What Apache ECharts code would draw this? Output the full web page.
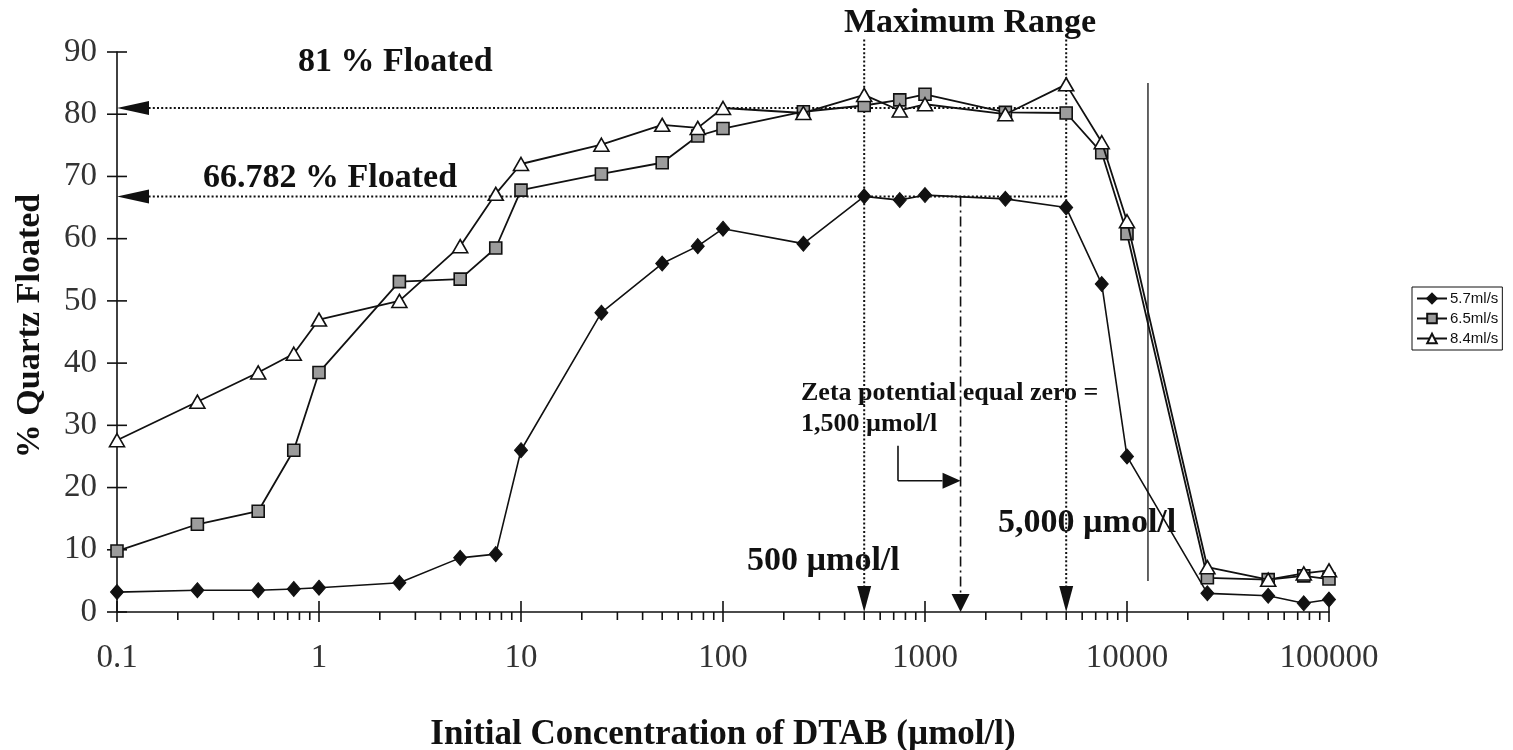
<!DOCTYPE html>
<html>
<head>
<meta charset="utf-8">
<script src="https://cdn.jsdelivr.net/npm/echarts@6/dist/echarts.min.js"></script>
<style>
  html, body { margin: 0; padding: 0; background: #fff; }
  #chart { width: 1513px; height: 750px; }
</style>
</head>
<body>
<div id="chart"></div>
<script>
// DTAB concentration (µmol/l) and % quartz floated at three air flow rates
const concentrations = [0.1, 0.25, 0.5, 0.75, 1, 2.5, 5, 7.5, 10, 25, 50, 75, 100, 250, 500, 750, 1000, 2500, 5000, 7500, 10000, 25000, 50000, 75000, 100000];
const floated57 = [3.2, 3.5, 3.5, 3.7, 3.9, 4.7, 8.7, 9.3, 26.0, 48.1, 56.0, 58.8, 61.6, 59.2, 66.8, 66.2, 67.0, 66.4, 65.0, 52.7, 25.0, 3.0, 2.6, 1.4, 2.0];
const floated65 = [9.8, 14.1, 16.2, 26.0, 38.5, 53.1, 53.5, 58.5, 67.8, 70.4, 72.2, 76.5, 77.7, 80.4, 81.4, 82.3, 83.2, 80.3, 80.2, 73.8, 60.8, 5.5, 5.2, 5.8, 5.3];
const floated84 = [27.6, 33.8, 38.5, 41.5, 47.0, 50.0, 58.8, 67.2, 72.0, 75.1, 78.3, 77.8, 81.0, 80.2, 83.1, 80.6, 81.6, 80.0, 84.8, 75.5, 62.8, 7.2, 5.2, 6.2, 6.7];
const seriesNames = ['5.7ml/s', '6.5ml/s', '8.4ml/s'];

// axis ticks
const xTickLabels = ['0.1', '1', '10', '100', '1000', '10000', '100000'];
const xDecades = [0.1, 1, 10, 100, 1000, 10000, 100000];
const yTicks = [0, 10, 20, 30, 40, 50, 60, 70, 80, 90];

// reference levels and concentrations marked on the plot
const floatHigh = 81;          // "81 % Floated"
const floatPlateau = 66.782;   // "66.782 % Floated"
const rangeStart = 500;        // µmol/l
const rangeEnd = 5000;         // µmol/l
const zetaZero = 1500;         // µmol/l
const rangeTop = 92;           // top of the "Maximum Range" guides
const calloutX = 735;          // bent arrow start (concentration)
const calloutTop = 26.7;
const calloutLevel = 21.1;
const cutoffX = 12700;         // solid separator line
const cutoffSpan = [5, 85];

const SERIF = '"Liberation Serif", "Times New Roman", serif';

// minor ticks of the log axis: 2..9 within each decade
const minorTicks = [];
for (let d = 0; d < xDecades.length - 1; d++) {
  for (let k = 2; k <= 9; k++) minorTicks.push(+(xDecades[d] * k).toPrecision(6));
}
const tickData = []
  .concat(xDecades.map(v => [v, 0, 0]))
  .concat(minorTicks.map(v => [v, 0, 1]))
  .concat(yTicks.map(v => [xDecades[0], v, 2]));

function renderTick(params, api) {
  const p = api.coord([api.value(0), api.value(1)]);
  const kind = api.value(2);
  let shape;
  if (kind === 0) shape = { x1: p[0], y1: p[1] - 11, x2: p[0], y2: p[1] + 10 };
  else if (kind === 1) shape = { x1: p[0], y1: p[1], x2: p[0], y2: p[1] + 8 };
  else shape = { x1: p[0] - 10, y1: p[1], x2: p[0] + 10, y2: p[1] };
  return { type: 'line', shape, style: { stroke: '#111', lineWidth: 1.6 } };
}

// guide lines: from/to in data space, dash pattern, arrow at the "to" end (length, half width)
const DOT = [2, 2.2];
const guides = [
  { from: [rangeEnd, floatHigh], to: [xDecades[0], floatHigh], dash: DOT, width: 2, arrow: [32, 7] },
  { from: [rangeEnd, floatPlateau], to: [xDecades[0], floatPlateau], dash: DOT, width: 2, arrow: [32, 7] },
  { from: [rangeStart, rangeTop], to: [rangeStart, 0], dash: DOT, width: 2, arrow: [26, 7] },
  { from: [rangeEnd, rangeTop], to: [rangeEnd, 0], dash: DOT, width: 2, arrow: [26, 7] },
  { from: [zetaZero, floatPlateau], to: [zetaZero, 0], dash: [10, 4, 2, 4], width: 1.6, arrow: [18, 9] },
  { from: [calloutX, calloutTop], to: [calloutX, calloutLevel], dash: null, width: 1.6, arrow: null },
  { from: [calloutX, calloutLevel], to: [zetaZero, calloutLevel], dash: null, width: 1.6, arrow: [18, 8] },
  { from: [cutoffX, cutoffSpan[1]], to: [cutoffX, cutoffSpan[0]], dash: null, width: 1.3, arrow: null }
];

function renderGuide(params, api) {
  const g = guides[params.dataIndex];
  const p0 = api.coord([api.value(0), api.value(1)]);
  const p1 = api.coord([api.value(2), api.value(3)]);
  const children = [];
  let end = p1;
  if (g.arrow) {
    const dx = p1[0] - p0[0], dy = p1[1] - p0[1];
    const len = Math.sqrt(dx * dx + dy * dy) || 1;
    const ux = dx / len, uy = dy / len;
    const bx = p1[0] - ux * g.arrow[0], by = p1[1] - uy * g.arrow[0];
    const nx = -uy * g.arrow[1], ny = ux * g.arrow[1];
    end = [bx, by];
    children.push({
      type: 'polygon',
      shape: { points: [[p1[0], p1[1]], [bx + nx, by + ny], [bx - nx, by - ny]] },
      style: { fill: '#111' }
    });
  }
  children.unshift({
    type: 'line',
    shape: { x1: p0[0], y1: p0[1], x2: end[0], y2: end[1] },
    style: { stroke: '#111', lineWidth: g.width, lineDash: g.dash || null }
  });
  return { type: 'group', children };
}

function pairs(ys) { return concentrations.map((c, i) => [c, ys[i]]); }

const chart = echarts.init(document.getElementById('chart'), null, { renderer: 'canvas' });

const boldText = (text, x, y, size, align) => ({
  type: 'text', x, y,
  style: { text, fill: '#111', font: 'bold ' + size + 'px ' + SERIF, align: align || 'left', verticalAlign: 'middle' }
});

chart.setOption({
  animation: false,
  backgroundColor: '#fff',
  grid: { left: 117, right: 184, top: 52, bottom: 138 },
  xAxis: {
    type: 'log', logBase: 10, min: 0.1, max: 100000, splitNumber: 6,
    axisLine: { show: true, lineStyle: { color: '#111', width: 1.6 } },
    axisTick: { show: false },
    splitLine: { show: false },
    axisLabel: {
      margin: 30, color: '#333', fontFamily: SERIF, fontSize: 33,
      formatter: v => xTickLabels[Math.round(Math.log10(v)) + 1]
    }
  },
  yAxis: {
    type: 'value', min: 0, max: 90, interval: 10,
    axisLine: { show: true, lineStyle: { color: '#111', width: 1.6 } },
    axisTick: { show: false },
    splitLine: { show: false },
    axisLabel: { margin: 20, color: '#333', fontFamily: SERIF, fontSize: 33 }
  },
  legend: {
    orient: 'vertical', left: 1412, top: 287,
    data: seriesNames,
    backgroundColor: '#fff', borderColor: '#111', borderWidth: 1,
    padding: [4, 4, 4, 4], itemGap: 5, itemWidth: 30, itemHeight: 12,
    textStyle: { fontFamily: '"Liberation Sans", Arial, sans-serif', fontSize: 15, color: '#111', padding: [0, 0, 0, -2] }
  },
  graphic: [
    { type: 'text', x: 30, y: 326, rotation: Math.PI / 2,
      style: { text: '% Quartz Floated', fill: '#111', font: 'bold 34px ' + SERIF, align: 'center', verticalAlign: 'middle' } },
    boldText('Initial Concentration of DTAB (µmol/l)', 723, 735, 35, 'center'),
    boldText('Maximum Range', 970, 23, 34, 'center'),
    boldText('81 % Floated', 298, 62, 34),
    boldText('66.782 % Floated', 203, 178, 34),
    boldText('Zeta potential equal zero =', 801, 393, 26),
    boldText('1,500 µmol/l', 801, 424, 26),
    boldText('500 µmol/l', 747, 561, 34),
    boldText('5,000 µmol/l', 998, 523, 34)
  ],
  series: [
    {
      name: 'ticks', type: 'custom', renderItem: renderTick, data: tickData,
      encode: { x: 0, y: 1 }, silent: true, z: 1
    },
    {
      name: 'guides', type: 'custom', renderItem: renderGuide,
      data: guides.map(g => [g.from[0], g.from[1], g.to[0], g.to[1]]),
      encode: { x: [0, 2], y: [1, 3] }, silent: true, z: 1
    },
    {
      name: seriesNames[0], type: 'line', data: pairs(floated57),
      symbol: 'diamond', symbolSize: [13, 15],
      lineStyle: { color: '#111', width: 1.6 },
      itemStyle: { color: '#111', borderColor: '#111', borderWidth: 1 }, z: 3
    },
    {
      name: seriesNames[1], type: 'line', data: pairs(floated65),
      symbol: 'rect', symbolSize: 12,
      lineStyle: { color: '#111', width: 1.8 },
      itemStyle: { color: '#9c9c9c', borderColor: '#111', borderWidth: 1.6 }, z: 4
    },
    {
      name: seriesNames[2], type: 'line', data: pairs(floated84),
      symbol: 'triangle', symbolSize: [15, 13],
      lineStyle: { color: '#111', width: 1.8 },
      itemStyle: { color: '#fff', borderColor: '#111', borderWidth: 1.6 }, z: 5
    }
  ]
});
</script>
</body>
</html>
